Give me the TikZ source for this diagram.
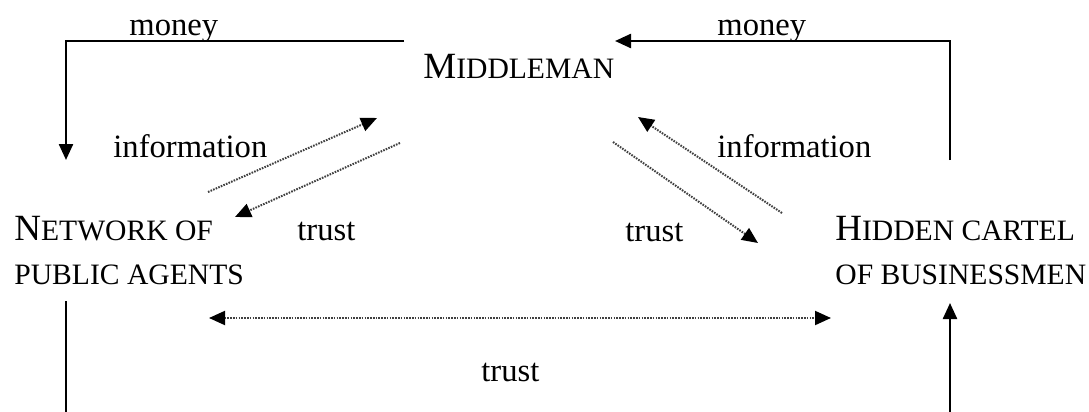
\documentclass[tikz,border=0pt]{standalone}
\usepackage{fontspec}
\setmainfont{Liberation Serif}
\usetikzlibrary{arrows.meta}

% hand-made small capitals: a full capital followed by reduced capitals
\newcommand\bigcapital[1]{{\fontsize{18.5}{22}\selectfont #1}}
\newcommand\smallcapitals[1]{{\fontsize{14.8}{22}\selectfont #1}}

\tikzset{
  actor/.style={anchor=base west, inner sep=0pt, align=left,
                font=\fontsize{14.8}{22}\selectfont},
  flowlabel/.style={anchor=base west, inner sep=0pt,
                font=\fontsize{16.3}{20}\selectfont},
  bigtip/.style={-{Triangle[length=8pt,width=7pt,black]}},
  moneyflow/.style={line width=1.2pt, bigtip},
  softflow/.style={line width=1pt, black!75,
                dash pattern=on 0.8pt off 0.6pt, bigtip},
  plainline/.style={line width=1.2pt},
}

\begin{document}
\begin{tikzpicture}[x=0.5pt, y=-0.5pt]
  \useasboundingbox (0,0) rectangle (1089,412);

  % the three actors
  \node[actor] (mid) at (423,78) {\bigcapital{M}\smallcapitals{IDDLEMAN}};
  \node[actor] (net) at (14,240) {\bigcapital{N}\smallcapitals{ETWORK OF}};
  \node[actor] (net2) at (14,284) {PUBLIC AGENTS};
  \node[actor] (hid) at (835,240) {\bigcapital{H}\smallcapitals{IDDEN CARTEL}};
  \node[actor] (hid2) at (835,284) {OF BUSINESSMEN};

  % flow labels
  \node[flowlabel] (moneyL) at (129,35) {money};
  \node[flowlabel] (moneyR) at (717,35) {money};
  \node[flowlabel] (infoL) at (113,157) {information};
  \node[flowlabel] (infoR) at (717,157) {information};
  \node[flowlabel] (trustL) at (297,240) {trust};
  \node[flowlabel] (trustR) at (625,241) {trust};
  \node[flowlabel] (trustB) at (481,381) {trust};

  % end points of the connectors
  \coordinate (mLa) at (404,41);
  \coordinate (mLb) at (66,160);
  \coordinate (mRa) at (950,160);
  \coordinate (mRb) at (615,41);
  \coordinate (iLa) at (208,192);
  \coordinate (iLb) at (377,118);
  \coordinate (tLa) at (400,143);
  \coordinate (tLb) at (235,217);
  \coordinate (iRa) at (782,213);
  \coordinate (iRb) at (638,117);
  \coordinate (tRa) at (613,142);
  \coordinate (tRb) at (758,243);
  \coordinate (tBa) at (209,318);
  \coordinate (tBb) at (831,318);
  \coordinate (vLa) at (66,301);
  \coordinate (vLb) at (66,412);
  \coordinate (vRa) at (950,412);
  \coordinate (vRb) at (950,303);

  % money flows
  \draw[moneyflow] (mLa) -| (mLb);
  \draw[moneyflow] (mRa) |- (mRb);

  % information and trust flows
  \draw[softflow] (iLa) -- (iLb);
  \draw[softflow] (tLa) -- (tLb);
  \draw[softflow] (iRa) -- (iRb);
  \draw[softflow] (tRa) -- (tRb);
  \draw[softflow, {Triangle[length=8pt,width=7pt,black]}-{Triangle[length=8pt,width=7pt,black]}] (tBa) -- (tBb);

  % lower loop between the network and the cartel
  \draw[plainline] (vLa) -- (vLb);
  \draw[moneyflow] (vRa) -- (vRb);
\end{tikzpicture}
\end{document}
